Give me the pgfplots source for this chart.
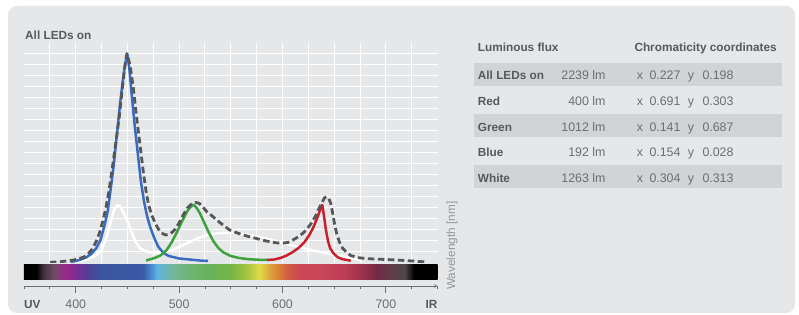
\documentclass[border=0pt]{standalone}
\usepackage{pgfplots}
\pgfplotsset{compat=1.18}
\usepackage{fontspec}
\setmainfont{Liberation Sans}
\definecolor{panel}{HTML}{E6E7E8}
\definecolor{band}{HTML}{D1D3D4}
\definecolor{dark}{HTML}{58595B}
\definecolor{txt}{HTML}{6D6E71}
\definecolor{light}{HTML}{939598}
\definecolor{cblue}{HTML}{3A6BC2}
\definecolor{cgreen}{HTML}{3CA23C}
\definecolor{cred}{HTML}{C8202D}
\definecolor{cdash}{HTML}{555658}
% spectrum stops
\definecolor{s350}{RGB}{0,0,0}
\definecolor{s368}{RGB}{60,45,55}
\definecolor{s378}{RGB}{110,75,100}
\definecolor{s390}{RGB}{155,40,140}
\definecolor{s398}{RGB}{130,45,145}
\definecolor{s410}{RGB}{85,60,150}
\definecolor{s425}{RGB}{58,85,160}
\definecolor{s465}{RGB}{58,90,165}
\definecolor{s473}{RGB}{75,140,205}
\definecolor{s479}{RGB}{95,180,228}
\definecolor{s486}{RGB}{105,180,190}
\definecolor{s495}{RGB}{115,182,150}
\definecolor{s510}{RGB}{110,180,115}
\definecolor{s530}{RGB}{105,178,90}
\definecolor{s550}{RGB}{118,180,70}
\definecolor{s565}{RGB}{165,195,65}
\definecolor{s578}{RGB}{225,218,72}
\definecolor{s588}{RGB}{220,160,60}
\definecolor{s597}{RGB}{215,125,55}
\definecolor{s606}{RGB}{208,90,70}
\definecolor{s618}{RGB}{200,70,85}
\definecolor{s640}{RGB}{200,70,90}
\definecolor{s660}{RGB}{190,60,85}
\definecolor{s675}{RGB}{160,50,75}
\definecolor{s690}{RGB}{120,40,70}
\definecolor{s705}{RGB}{95,60,70}
\definecolor{s718}{RGB}{80,70,75}
\definecolor{s724}{RGB}{30,25,28}
\pgfdeclarehorizontalshading{spectrum}{100bp}{color(0bp)=(s350); color(25bp)=(s350); color(26.5bp)=(s350);
 color(27.25bp)=(s368); color(28.5bp)=(s378); color(30bp)=(s390); color(31bp)=(s398); color(32.5bp)=(s410);
 color(34.375bp)=(s425); color(39.375bp)=(s465); color(40.375bp)=(s473); color(41.125bp)=(s479); color(42bp)=(s486);
 color(43.125bp)=(s495); color(45bp)=(s510); color(47.5bp)=(s530); color(50bp)=(s550); color(51.875bp)=(s565);
 color(53.5bp)=(s578); color(54.75bp)=(s588); color(55.875bp)=(s597); color(57bp)=(s606); color(58.5bp)=(s618);
 color(61.25bp)=(s640); color(63.75bp)=(s660); color(65.625bp)=(s675); color(67.5bp)=(s690); color(69.375bp)=(s705);
 color(71bp)=(s718); color(71.75bp)=(s724); color(72.125bp)=(s350); color(75bp)=(s350); color(100bp)=(s350)}
\newcommand{\bsz}{\fontsize{11.8}{13}\selectfont\bfseries}
\newcommand{\rsz}{\fontsize{12.4}{14}\selectfont}
\begin{document}
\begin{tikzpicture}
\useasboundingbox (0pt,0pt) rectangle (799pt,315pt);
\fill[white] (0pt,0pt) rectangle (799pt,315pt);
\fill[panel, rounded corners=9pt] (8pt,2pt) rectangle (795pt,309pt);
% table bands
\fill[band] (474pt,229.1pt) rectangle (781.7pt,251.7pt);
\fill[band] (474pt,178.1pt) rectangle (781.7pt,200.7pt);
\fill[band] (474pt,127.1pt) rectangle (781.7pt,149.7pt);
\node[anchor=base west, inner sep=0pt, text=dark] at (25pt,275.7pt) {\bsz All LEDs on};
\node[anchor=base west, inner sep=0pt, text=dark] at (477.7pt,263.3pt) {\bsz Luminous flux};
\node[anchor=base west, inner sep=0pt, text=dark] at (634.3pt,263.3pt) {\bsz Chromaticity coordinates};
\foreach \n/\f/\xv/\yv/\yy in {All LEDs on/2239/0.227/0.198/235, Red/400/0.691/0.303/209.3, Green/1012/0.141/0.687/183.7, Blue/192/0.154/0.028/158, White/1263/0.304/0.313/132.4}{
  \node[anchor=base west, inner sep=0pt, text=dark] at (477.7pt,\yy pt) {\bsz \n};
  \node[anchor=base east, inner sep=0pt, text=txt] at (605.7pt,\yy pt) {\rsz \f\ lm};
  \node[anchor=base west, inner sep=0pt, text=txt] at (636.7pt,\yy pt) {\rsz x};
  \node[anchor=base west, inner sep=0pt, text=txt] at (649.3pt,\yy pt) {\rsz \xv};
  \node[anchor=base west, inner sep=0pt, text=txt] at (687.7pt,\yy pt) {\rsz y};
  \node[anchor=base west, inner sep=0pt, text=txt] at (702.3pt,\yy pt) {\rsz \yv};
}
\node[anchor=base west, inner sep=0pt, text=light, rotate=90] at (455pt,25pt) {\fontsize{11.8}{13}\selectfont Wavelength [nm]};
% main spectrum axis
\begin{axis}[
  at={(24pt,52pt)}, anchor=south west,
  scale only axis, width=413.6pt, height=220.3pt,
  xmin=350, xmax=750, ymin=0, ymax=220.3,
  axis line style={draw=none},
  xtick={375,400,...,725}, ytick={11.5,22.5,...,210},
  major tick length=0pt,
  xticklabel=\empty, yticklabel=\empty,
  grid=major, major grid style={white, line width=1pt},
  every axis plot/.append style={line join=round},
]
\addplot[white, line width=2.5pt] coordinates {
(400,1) (405,2) (410,3.5) (415,5.5) (420,8) (425,13) (430,26) (434,42) (437,53) (440,58) (443,57)
(446,51) (450,42) (454,31) (458,21) (462,15) (467,12) (472,10.5) (478,9.8) (485,10.3) (492,12.5)
(498,15) (505,18.5) (512,22) (520,25.5) (528,28) (536,29.6) (546,30.3) (555,30) (565,28.5) (575,26.5)
(585,24.5) (595,21.5) (605,19) (615,16) (625,13.5) (635,11.5) (646,9) (655,7.2) (662,5.7) (670,4) (677,2.5)};
\addplot[cblue, line width=2.5pt] coordinates {
(395,1) (400,2) (405,3.5) (410,5.5) (415,9) (420,15) (424,23) (428,38) (431,52) (434,75) (437,100)
(440,130) (443,160) (446,186) (448,200) (450,208.5) (452,193) (454,170) (457,138) (460,110) (463,82)
(466,62) (469,47) (472,36) (476,25) (480,16) (485,10) (490,7) (500,4.5) (510,3.5) (520,2.5) (528,2)};
\addplot[cgreen, line width=2.5pt] coordinates {
(468,2.5) (475,4.5) (482,7.5) (488,13) (493,21) (498,31) (503,42) (508,52) (511,56) (514,58.5)
(517,55) (520,50) (524,41) (528,32) (533,22) (538,15) (543,10.5) (550,7) (558,5) (568,3.7) (578,3.2) (586,3)};
\addplot[cred, line width=2.5pt] coordinates {
(585,3) (592,3.5) (598,5) (604,7.5) (610,11) (616,15.5) (621,20.5) (626,28) (630,36) (634,46)
(637,55) (638.5,58) (640,48) (642,33) (644,22) (646,15) (649,10) (653,6) (658,3.8) (666,2.3)};
\addplot[cdash, line width=2.8pt, dash pattern=on 6.5pt off 3.5pt] coordinates {
(375,0.7) (385,1.3) (393,2.2) (398,3) (403,4.2) (408,6) (412,9) (416,14) (420,22) (423,30) (426,41)
(429,54) (432,71) (435,92) (438.5,118) (442,145) (445,174) (447.7,198) (449.5,209.5) (452.5,198)
(455.7,175) (459,145) (462.2,118) (465.4,91) (468,72) (470.5,58) (473.5,48) (477,39.5) (480,34)
(483,30) (487,28) (490,28.5) (493,30.5) (496,33.5) (500,40) (504,48) (508,55) (512,59) (516,60.5)
(519.5,59.7) (523,56) (527,51) (532,47) (537,42.5) (543,37.5) (549,33) (555,30.5) (562,28) (569,26)
(575,24.5) (582,22.5) (588,21.2) (594,20.2) (600,19.8) (605,20.5) (610,23) (615,26) (620,30) (624,34.5)
(628,40) (632,47) (635,54) (638,60) (640.5,65) (642.5,66.3) (644.5,65) (646.5,60) (648.5,50) (650.5,38)
(652.5,29) (655,21) (658,15) (662,10.5) (666,7.5) (672,5.5) (680,4.5) (690,3.9) (700,3.5) (710,3)
(720,2.4) (730,1.7) (740,1)};
\end{axis}
% bottom axis: spectrum bar and ticks
\begin{axis}[
  at={(24pt,29pt)}, anchor=south west,
  scale only axis, width=413.6pt, height=22pt,
  xmin=350, xmax=750, ymin=0, ymax=22,
  axis x line=bottom, axis y line=none,
  x axis line style={draw=txt, line width=0.6pt},
  xtick={400,500,600,700},
  xticklabels={400,500,600,700},
  /pgf/number format/assume math mode=true,
  minor xtick={350,375,425,450,475,525,550,575,625,650,675,725,750},
  tick align=outside, major tick length=6.7pt, minor tick length=3.3pt,
  every tick/.style={draw=txt, line width=0.9pt},
  xticklabel style={font=\rsz, text=txt, anchor=base, inner sep=0pt},
  xticklabel shift=15.6pt,
  typeset ticklabels with strut=false,
  clip=false,
]
\shade[shading=spectrum] (axis cs:350,6.7) rectangle (axis cs:750,21.7);
\node[anchor=base west, inner sep=0pt, text=dark] at (rel axis cs:0,0) [yshift=-22.3pt] {\bsz UV};
\node[anchor=base east, inner sep=0pt, text=dark] at (rel axis cs:1,0) [yshift=-22.3pt] {\bsz IR};
\end{axis}
\end{tikzpicture}
\end{document}
